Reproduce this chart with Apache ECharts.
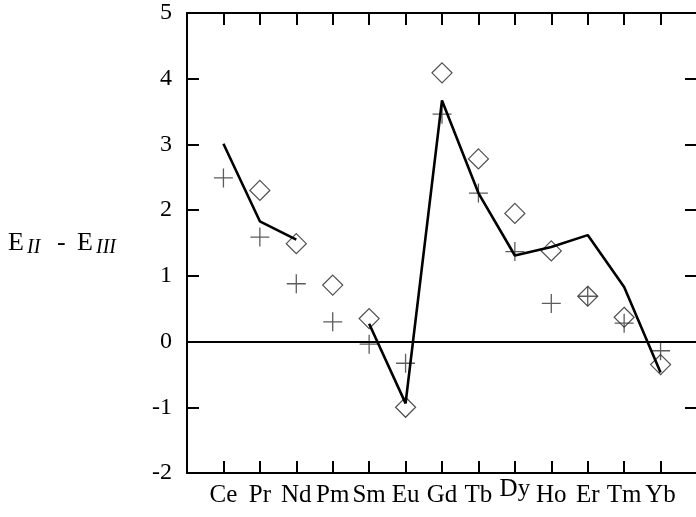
<!DOCTYPE html>
<html>
<head>
<meta charset="utf-8">
<script src="https://cdn.jsdelivr.net/npm/echarts@6/dist/echarts.min.js"></script>
<style>
  html, body { margin: 0; padding: 0; background: #fff; }
  #chart { width: 696px; height: 517px; }
</style>
</head>
<body>
<div id="chart"></div>
<script>
// rare earth elements, placed at x = 1..13
var elements = ['Ce', 'Pr', 'Nd', 'Pm', 'Sm', 'Eu', 'Gd', 'Tb', 'Dy', 'Ho', 'Er', 'Tm', 'Yb'];
var lineVals = [3.01, 1.83, 1.55, null, 0.27, -0.94, 3.67, 2.26, 1.31, 1.44, 1.62, 0.83, -0.47];
var plusVals = [2.49, 1.59, 0.88, 0.30, -0.04, -0.33, 3.46, 2.26, 1.37, 0.58, 0.69, 0.28, -0.14];
var diamondVals = [null, 2.30, 1.49, 0.86, 0.35, -1.00, 4.09, 2.78, 1.95, 1.38, 0.69, 0.37, -0.35];
var yTicks = [-2, -1, 0, 1, 2, 3, 4, 5];

var serif = 'Liberation Serif';

var toPairs = function (vals) {
    var res = [];
    for (var i = 0; i < vals.length; i++) {
        res.push([i + 1, vals[i]]);
    }
    return res;
};

var frameLine = { show: true, onZero: false, lineStyle: { color: '#000', width: 2 } };
var frameTick = { show: true, inside: true, length: 12, lineStyle: { color: '#000', width: 2 } };

var option = {
    animation: false,
    grid: {
        left: 187, top: 13, width: 510, height: 460,
        containLabel: false,
        outerBoundsMode: 'none'
    },
    xAxis: [{
        type: 'value',
        min: 0, max: 14, interval: 1,
        axisLine: frameLine,
        axisTick: frameTick,
        splitLine: { show: false },
        axisLabel: {
            margin: 10,
            fontFamily: serif,
            fontSize: 25,
            color: '#000',
            lineHeight: 25,
            formatter: function (v) {
                var name = elements[v - 1];
                if (!name) return '';
                if (name === 'Dy') return '{up|Dy}';
                return name;
            },
            rich: {
                up: { fontFamily: serif, fontSize: 25, color: '#000', lineHeight: 13 }
            }
        }
    }, {
        type: 'value',
        position: 'top',
        min: 0, max: 14, interval: 1,
        axisLine: frameLine,
        axisTick: frameTick,
        axisLabel: { show: false },
        splitLine: { show: false }
    }],
    yAxis: [{
        type: 'value',
        min: yTicks[0], max: yTicks[yTicks.length - 1], interval: 1,
        axisLine: frameLine,
        axisTick: frameTick,
        splitLine: { show: false },
        axisLabel: {
            margin: 15,
            fontFamily: serif,
            fontSize: 24,
            color: '#000'
        }
    }, {
        type: 'value',
        position: 'right',
        min: yTicks[0], max: yTicks[yTicks.length - 1], interval: 1,
        axisLine: frameLine,
        axisTick: frameTick,
        axisLabel: { show: false },
        splitLine: { show: false }
    }],
    graphic: [
        { type: 'text', left: 8, top: 230, style: { text: 'E', font: '26px "Liberation Serif"', fill: '#000' } },
        { type: 'text', left: 27, top: 238, style: { text: 'II', font: 'italic 20px "Liberation Serif"', fill: '#000' } },
        { type: 'text', left: 57, top: 230, style: { text: '-', font: '26px "Liberation Serif"', fill: '#000' } },
        { type: 'text', left: 77, top: 230, style: { text: 'E', font: '26px "Liberation Serif"', fill: '#000' } },
        { type: 'text', left: 96, top: 238, style: { text: 'III', font: 'italic 20px "Liberation Serif"', fill: '#000' } }
    ],
    series: [{
        type: 'scatter',
        data: toPairs(diamondVals),
        symbol: 'diamond',
        symbolSize: [20, 20],
        itemStyle: { color: 'rgba(0,0,0,0)', borderColor: '#222', borderWidth: 1.2 },
        z: 3
    }, {
        type: 'scatter',
        data: toPairs(plusVals),
        symbol: 'path://M10,0 L10,20 M0,10 L20,10',
        symbolSize: 19,
        itemStyle: { color: 'rgba(0,0,0,0)', borderColor: '#333', borderWidth: 1.3 },
        z: 3
    }, {
        type: 'line',
        data: toPairs(lineVals),
        showSymbol: false,
        connectNulls: false,
        lineStyle: { color: '#000', width: 2.6 },
        z: 4,
        markLine: {
            silent: true,
            symbol: 'none',
            label: { show: false },
            lineStyle: { color: '#000', width: 2, type: 'solid' },
            data: [{ yAxis: 0 }]
        }
    }]
};

var myChart = echarts.init(document.getElementById('chart'));
myChart.setOption(option);
</script>
</body>
</html>
